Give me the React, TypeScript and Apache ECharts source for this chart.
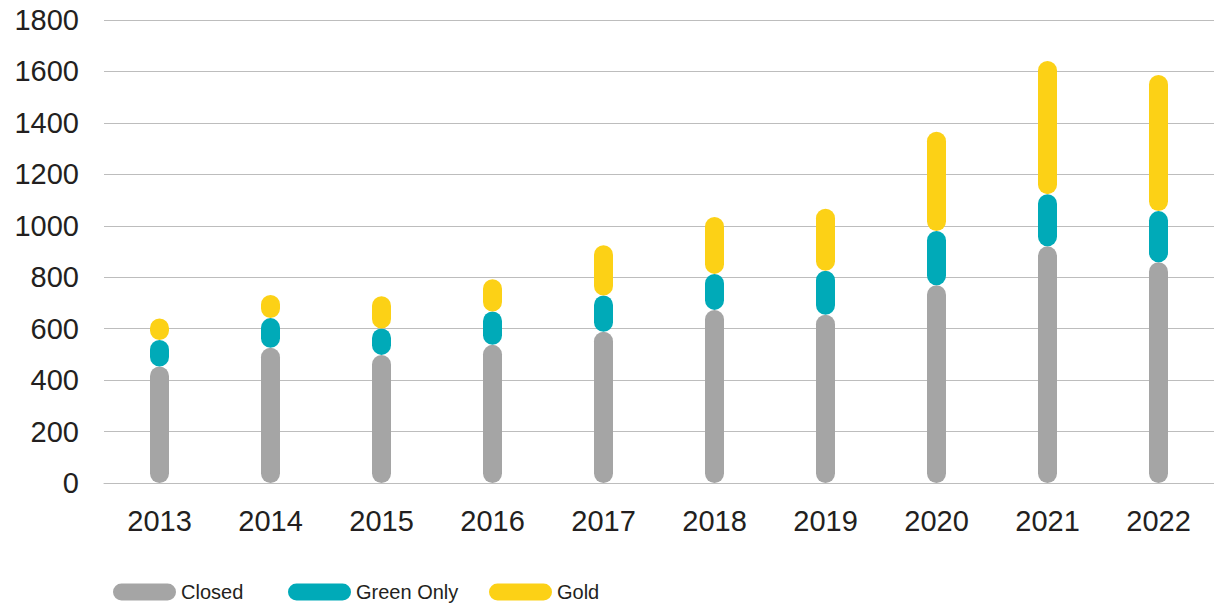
import React, { useEffect, useRef } from "react";
import * as echarts from "echarts";

const categories = ["2013", "2014", "2015", "2016", "2017", "2018", "2019", "2020", "2021", "2022"];
const closedValues = [453, 526, 498, 537, 588, 673, 654, 769, 920, 858];
const greenOnlyValues = [103, 115, 103, 130, 141, 140, 171, 211, 203, 199];
const goldValues = [84, 90, 125, 125, 195, 221, 241, 386, 518, 529];
const yTicks = { min: 0, max: 1800, interval: 200 };

const seriesNames = ["Closed", "Green Only", "Gold"];
const seriesColors = ["#a5a5a5", "#00aab8", "#fcd116"];
const legendLefts = [113, 288, 489];

const pill = "path://M8.5,0 H54.5 A8.5,8.5 0 0 1 54.5,17 H8.5 A8.5,8.5 0 0 1 8.5,0 Z";

export default function App() {
  const ref = useRef<HTMLDivElement>(null);
  useEffect(() => {
    if (!ref.current) return;
    const chart = echarts.init(ref.current, null, { renderer: "svg" });
    const font = "'Liberation Sans', Arial, Helvetica, sans-serif";
    const data = [closedValues, greenOnlyValues, goldValues];
    chart.setOption({
      animation: false,
      backgroundColor: "#ffffff",
      grid: { left: 104, right: -2, top: 20, bottom: 125, containLabel: false },
      legend: seriesNames.map((n, i) => ({
        left: legendLefts[i],
        top: 582,
        itemWidth: 63,
        itemHeight: 17,
        padding: 0,
        textStyle: { fontFamily: font, fontSize: 20, color: "#231f20" },
        data: [{ name: n, icon: pill }],
      })),
      xAxis: {
        type: "category",
        data: categories,
        axisTick: { show: false },
        axisLine: { show: true, lineStyle: { color: "#bdbdbd", width: 1 } },
        axisLabel: { fontFamily: font, fontSize: 29, color: "#231f20", margin: 23 },
      },
      yAxis: {
        type: "value",
        min: yTicks.min,
        max: yTicks.max,
        interval: yTicks.interval,
        axisLine: { show: false },
        axisTick: { show: false },
        splitLine: { lineStyle: { color: "#bdbdbd", width: 1 } },
        axisLabel: {
          fontFamily: font,
          fontSize: 29,
          color: "#231f20",
          margin: 25,
          formatter: (v: number) => String(v),
        },
      },
      series: seriesNames.map((name, i) => ({
        name,
        type: "bar",
        stack: "total",
        barWidth: 19,
        data: data[i],
        itemStyle: { color: seriesColors[i], borderRadius: 9.5 },
      })),
    });
    return () => chart.dispose();
  }, []);
  return (
    <div
      ref={ref}
      style={{ position: "fixed", left: 0, top: 0, width: 1214, height: 608 }}
    />
  );
}
